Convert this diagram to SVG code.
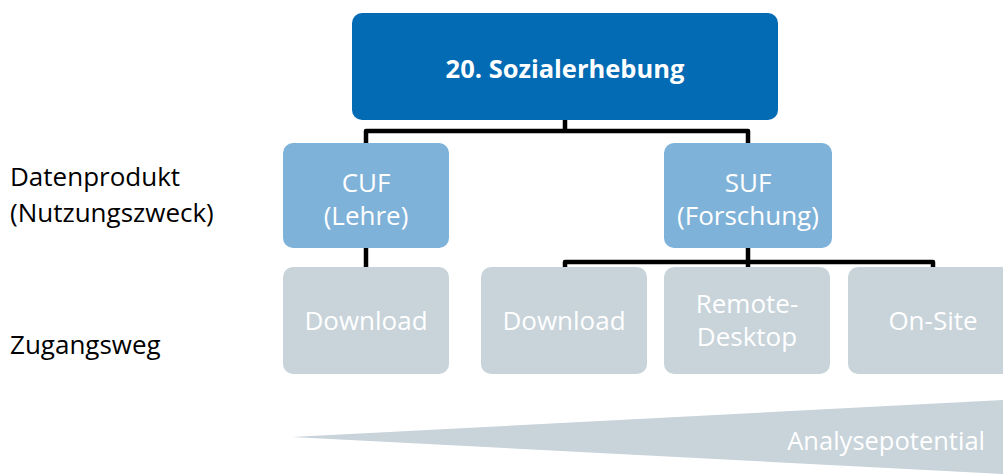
<svg xmlns="http://www.w3.org/2000/svg" width="1003" height="474" viewBox="0 0 1003 474">
<style>
.t{font-family:"Open Sans","Liberation Sans",sans-serif;}
.lbl{font-size:26px;fill:#000;}
.nt{font-size:26px;fill:#fff;text-anchor:middle;}
.top{fill:#036bb4;}
.mid{fill:#7fb2d8;}
.low{fill:#c8d3da;}
.con{fill:none;stroke:#000;stroke-width:4.5;stroke-linejoin:round;}
</style>
<rect width="1003" height="474" fill="#fff"/>
<polygon id="wedge" points="292,437 1003,400 1003,474" fill="#c8d3da"/>
<text class="t" x="985" y="450" font-size="25.5" fill="#fff" text-anchor="end">Analysepotential</text>
<g id="labels">
<text class="t lbl" x="10" y="186">Datenprodukt</text>
<text class="t lbl" x="10" y="222">(Nutzungszweck)</text>
<text class="t lbl" x="10" y="354">Zugangsweg</text>
</g>
<g id="connectors">
<path class="con" d="M565,120 V131 M366,143 V131 H748 V143"/>
<path class="con" d="M366,248 V267"/>
<path class="con" d="M748,248 V267 M565,267 V262 H933 V267"/>
</g>
<g id="root">
<rect class="top" x="352" y="13" width="426" height="107" rx="10"/>
<text class="t" x="565" y="78" font-size="25.5" font-weight="bold" fill="#fff" text-anchor="middle">20. Sozialerhebung</text>
</g>
<g id="cuf">
<rect class="mid" x="283" y="143" width="166" height="105" rx="10"/>
<text class="t nt" x="366" y="192">CUF</text>
<text class="t nt" x="366" y="225">(Lehre)</text>
</g>
<g id="suf">
<rect class="mid" x="664" y="143" width="168" height="105" rx="10"/>
<text class="t nt" x="748" y="192">SUF</text>
<text class="t nt" x="748" y="225">(Forschung)</text>
</g>
<g id="cuf-download">
<rect class="low" x="283" y="267" width="166" height="107" rx="10"/>
<text class="t nt" x="366" y="330">Download</text>
</g>
<g id="suf-download">
<rect class="low" x="481" y="267" width="166" height="107" rx="10"/>
<text class="t nt" x="564" y="330">Download</text>
</g>
<g id="remote">
<rect class="low" x="664" y="267" width="166" height="107" rx="10"/>
<text class="t nt" x="747" y="313">Remote-</text>
<text class="t nt" x="747" y="346">Desktop</text>
</g>
<g id="onsite">
<rect class="low" x="848" y="267" width="170" height="107" rx="10"/>
<text class="t nt" x="933" y="330">On-Site</text>
</g>
</svg>
